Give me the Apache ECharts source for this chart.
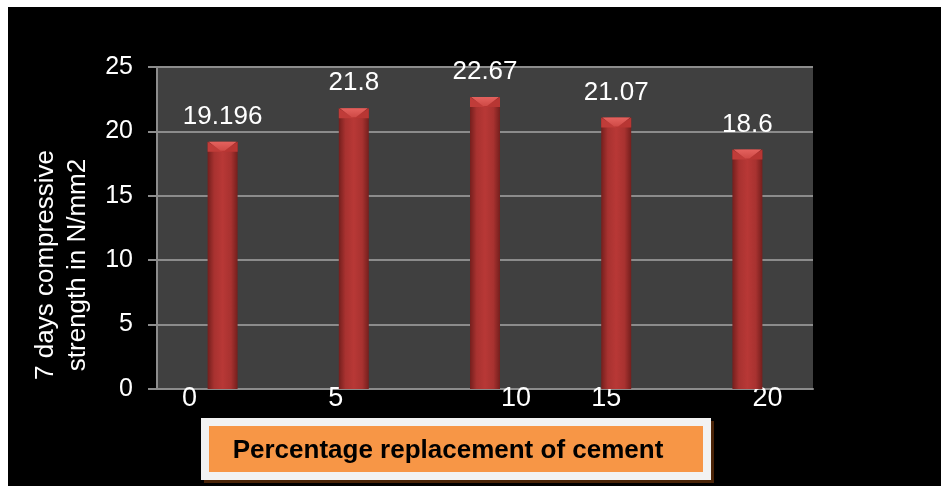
<!DOCTYPE html>
<html>
<head>
<meta charset="utf-8">
<script src="https://cdn.jsdelivr.net/npm/echarts@6/dist/echarts.min.js"></script>
<style>
  html, body { margin: 0; padding: 0; background: #ffffff; width: 941px; height: 486px; overflow: hidden; }
  #chart { position: absolute; left: 8px; top: 7px; width: 933px; height: 479px; }
</style>
</head>
<body>
<div id="chart"></div>
<script>
// Replacement percentages (category axis) and 7-day compressive strengths
const categories = ['0', '5', '10', '15', '20'];
const strength = [19.196, 21.8, 22.67, 21.07, 18.6];
const yTicks = [0, 5, 10, 15, 20, 25];

// Horizontal nudges for the category labels (px)
const labelShift = [-33, -18, 31, -10, 20];

const FONT = '"Liberation Sans", Arial, sans-serif';
const GRID_COLOR = '#8c8c8c';
const BAR_W = 30;
const BEVEL = 10;

const rich = {};
labelShift.forEach((dx, i) => {
  rich['c' + i] = {
    color: '#ffffff',
    fontSize: 27,
    fontFamily: FONT,
    padding: dx < 0 ? [0, -2 * dx, 0, 0] : [0, 0, 0, 2 * dx]
  };
});

const chart = echarts.init(document.getElementById('chart'), null, { renderer: 'canvas' });

chart.setOption({
  backgroundColor: '#000000',
  animation: false,
  graphic: [
    {
      // x-axis caption box: drop shadow, white frame, orange panel, label
      type: 'group',
      left: 193,
      top: 411,
      children: [
        { type: 'rect', shape: { x: 3, y: 3, width: 510, height: 62 }, style: { fill: '#4a2408' } },
        { type: 'rect', shape: { x: 0, y: 0, width: 510, height: 62 }, style: { fill: '#f2f2f2' } },
        { type: 'rect', shape: { x: 8, y: 8, width: 494, height: 46 }, style: { fill: '#f79646' } },
        {
          type: 'text',
          x: 247,
          y: 33,
          style: {
            text: 'Percentage replacement of cement',
            fill: '#000000',
            font: 'bold 26px "Liberation Sans", Arial, sans-serif',
            textAlign: 'center',
            textVerticalAlign: 'middle'
          }
        }
      ]
    }
  ],
  grid: {
    left: 149,
    top: 60,
    width: 656,
    height: 322,
    show: true,
    backgroundColor: '#404040',
    borderWidth: 0
  },
  xAxis: {
    type: 'category',
    data: categories,
    axisLine: { show: true, lineStyle: { color: GRID_COLOR, width: 2 } },
    axisTick: { show: false },
    axisLabel: {
      margin: -4,
      formatter: (v, i) => '{c' + i + '|' + v + '}',
      rich: rich
    }
  },
  yAxis: {
    type: 'value',
    min: yTicks[0],
    max: yTicks[yTicks.length - 1],
    interval: 5,
    name: '7 days compressive\nstrength in N/mm2',
    nameLocation: 'middle',
    nameRotate: 90,
    nameGap: 63,
    nameTextStyle: {
      color: '#ffffff',
      fontSize: 26,
      fontFamily: FONT,
      lineHeight: 32,
      padding: [0, 74, 0, 0]
    },
    axisLine: { show: true, lineStyle: { color: GRID_COLOR, width: 2 } },
    axisTick: { show: true, length: 9, lineStyle: { color: GRID_COLOR, width: 2 } },
    axisLabel: { color: '#ffffff', fontSize: 25, fontFamily: FONT, margin: 24 },
    splitLine: { show: true, lineStyle: { color: GRID_COLOR, width: 2 } }
  },
  series: [
    {
      type: 'bar',
      data: strength,
      barWidth: BAR_W,
      itemStyle: {
        color: new echarts.graphic.LinearGradient(0, 0, 1, 0, [
          { offset: 0, color: '#741f1d' },
          { offset: 0.22, color: '#a83230' },
          { offset: 0.5, color: '#b83836' },
          { offset: 0.78, color: '#a83230' },
          { offset: 1, color: '#741f1d' }
        ])
      },
      label: {
        show: true,
        position: 'top',
        distance: 12,
        color: '#ffffff',
        fontSize: 26,
        fontFamily: FONT,
        formatter: p => String(p.value)
      },
      z: 2
    },
    {
      // bevelled cap on top of each column
      type: 'custom',
      data: strength.map((v, i) => [i, v]),
      renderItem: (params, api) => {
        const top = api.coord([api.value(0), api.value(1)]);
        const cx = top[0], y = top[1];
        const l = cx - BAR_W / 2, r = cx + BAR_W / 2;
        return {
          type: 'group',
          children: [
            {
              type: 'polygon',
              shape: { points: [[l, y], [cx, y + BEVEL], [l, y + BEVEL]] },
              style: { fill: '#c03c39' }
            },
            {
              type: 'polygon',
              shape: { points: [[r, y], [cx, y + BEVEL], [r, y + BEVEL]] },
              style: { fill: '#b83633' }
            },
            {
              type: 'polygon',
              shape: { points: [[l + 1, y], [r - 1, y], [cx + 2, y + BEVEL - 1], [cx - 2, y + BEVEL - 1]] },
              style: {
                fill: new echarts.graphic.LinearGradient(0, 0, 0, 1, [
                  { offset: 0, color: '#e4625e' },
                  { offset: 1, color: '#cf4a46' }
                ])
              }
            }
          ]
        };
      },
      z: 3
    }
  ]
});
</script>
</body>
</html>
